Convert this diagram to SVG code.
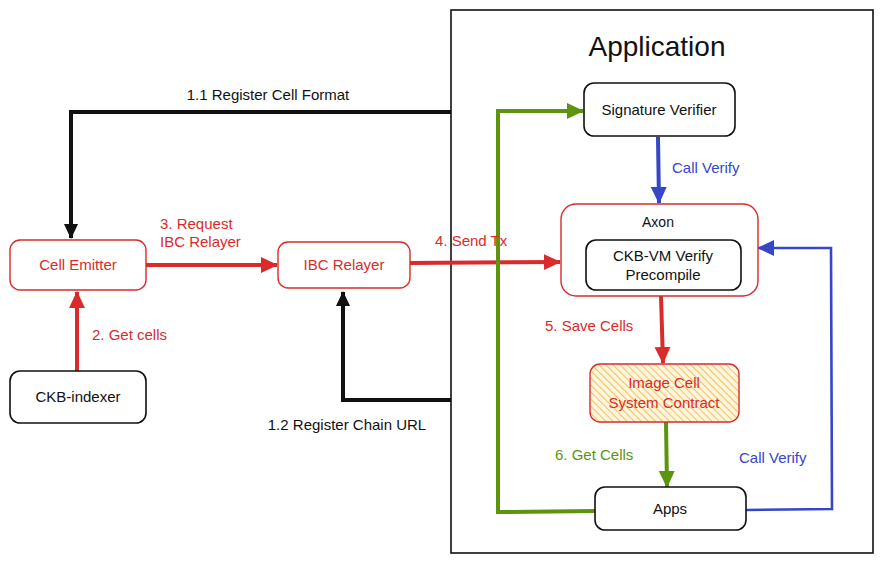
<svg xmlns="http://www.w3.org/2000/svg" width="883" height="563" viewBox="0 0 883 563">
<style>
text{font-family:"Liberation Sans","DejaVu Sans",sans-serif;font-size:15px;}
.c{text-anchor:middle;}
.red{fill:#d92b2b;}
.blk{fill:#111;}
.blu{fill:#3546c8;}
.grn{fill:#5c940d;}
.nb{fill:#fff;stroke:#111;stroke-width:1.6;}
.nr{fill:#fff;stroke:#d92b2b;stroke-width:1.4;}
.ln{fill:none;stroke-width:4;stroke-linejoin:miter;}
.thin{stroke-width:2.6;}
</style>
<defs>
<pattern id="hatch" patternUnits="userSpaceOnUse" width="5" height="5" patternTransform="rotate(-45)">
<rect width="5" height="5" fill="#fff6e0"/>
<line x1="0" y1="0" x2="0" y2="5" stroke="#f5b33b" stroke-width="1.6"/>
</pattern>
<marker id="ab" markerUnits="userSpaceOnUse" markerWidth="16" markerHeight="16" refX="14" refY="8" orient="auto"><path d="M0,1 L15,8 L0,15 Z" fill="#111"/></marker>
<marker id="ar" markerUnits="userSpaceOnUse" markerWidth="18" markerHeight="18" refX="16" refY="9" orient="auto"><path d="M0,1 L17,9 L0,17 Z" fill="#d92b2b"/></marker>
<marker id="ag" markerUnits="userSpaceOnUse" markerWidth="18" markerHeight="18" refX="16" refY="9" orient="auto"><path d="M0,1 L17,9 L0,17 Z" fill="#5c940d"/></marker>
<marker id="au" markerUnits="userSpaceOnUse" markerWidth="18" markerHeight="18" refX="16" refY="9" orient="auto"><path d="M0,1 L17,9 L0,17 Z" fill="#3546c8"/></marker>
</defs>
<rect width="883" height="563" fill="#fff"/>

<g id="application">
<rect x="451" y="10" width="422" height="543" fill="none" stroke="#111" stroke-width="1.6"/>
<text x="657" y="56" class="c blk" style="font-size:28px">Application</text>
</g>

<g id="connectors">
<polyline class="ln" points="451,112 71,112 71,238" stroke="#111" marker-end="url(#ab)"/>
<polyline class="ln" points="451,400 343,400 343,292" stroke="#111" marker-end="url(#ab)"/>
<line class="ln" x1="77" y1="371" x2="77" y2="292" stroke="#d92b2b" marker-end="url(#ar)"/>
<line class="ln" x1="146" y1="265" x2="277" y2="265" stroke="#d92b2b" marker-end="url(#ar)"/>
<line class="ln" x1="410" y1="263" x2="560" y2="262" stroke="#d92b2b" marker-end="url(#ar)"/>
<polyline class="ln" points="595,511 498,512 498,111 583,111" stroke="#5c940d" marker-end="url(#ag)"/>
<line class="ln" x1="658" y1="137" x2="659" y2="203" stroke="#3546c8" marker-end="url(#au)"/>
<line class="ln" x1="661" y1="296" x2="663" y2="363" stroke="#d92b2b" marker-end="url(#ar)"/>
<line class="ln" x1="666" y1="422" x2="667" y2="487" stroke="#5c940d" marker-end="url(#ag)"/>
<polyline class="ln thin" points="746,510 832,509 831,248 758,248" stroke="#3546c8" marker-end="url(#au)"/>
<text x="268" y="100" class="c blk">1.1 Register Cell Format</text>
<text x="347" y="430" class="c blk">1.2 Register Chain URL</text>
<text x="92" y="340" class="red">2. Get cells</text>
<text x="160" y="229" class="red">3. Request</text>
<text x="160" y="247" class="red">IBC Relayer</text>
<text x="435" y="246" class="red">4. Send Tx</text>
<text x="672" y="173" class="blu">Call Verify</text>
<text x="545" y="331" class="red">5. Save Cells</text>
<text x="555" y="460" class="grn">6. Get Cells</text>
<text x="739" y="463" class="blu">Call Verify</text>
</g>

<g id="cell-emitter">
<rect x="10" y="240" width="136" height="50" rx="10" class="nr"/>
<text x="78" y="270" class="c red">Cell Emitter</text>
</g>
<g id="ckb-indexer">
<rect x="10" y="371" width="136" height="52" rx="10" class="nb"/>
<text x="78" y="402" class="c blk">CKB-indexer</text>
</g>
<g id="ibc-relayer">
<rect x="278" y="242" width="132" height="46" rx="10" class="nr"/>
<text x="344" y="270" class="c red">IBC Relayer</text>
</g>
<g id="signature-verifier">
<rect x="584" y="83" width="151" height="53" rx="10" class="nb"/>
<text x="659" y="115" class="c blk">Signature Verifier</text>
</g>
<g id="axon">
<rect x="561" y="204" width="197" height="92" rx="15" class="nr"/>
<text x="658" y="227" class="c blk" style="font-size:14px">Axon</text>
</g>
<g id="ckb-vm-verify-precompile">
<rect x="586" y="240" width="155" height="50" rx="10" class="nb"/>
<text x="663" y="261" class="c blk">CKB-VM Verify</text>
<text x="663" y="280" class="c blk">Precompile</text>
</g>
<g id="image-cell-system-contract">
<rect x="590" y="364" width="149" height="58" rx="10" fill="url(#hatch)" stroke="#d92b2b" stroke-width="1.4"/>
<text x="664" y="388" class="c red">Image Cell</text>
<text x="664" y="408" class="c red">System Contract</text>
</g>
<g id="apps">
<rect x="595" y="487" width="151" height="43" rx="10" class="nb"/>
<text x="670" y="514" class="c blk">Apps</text>
</g>
</svg>
